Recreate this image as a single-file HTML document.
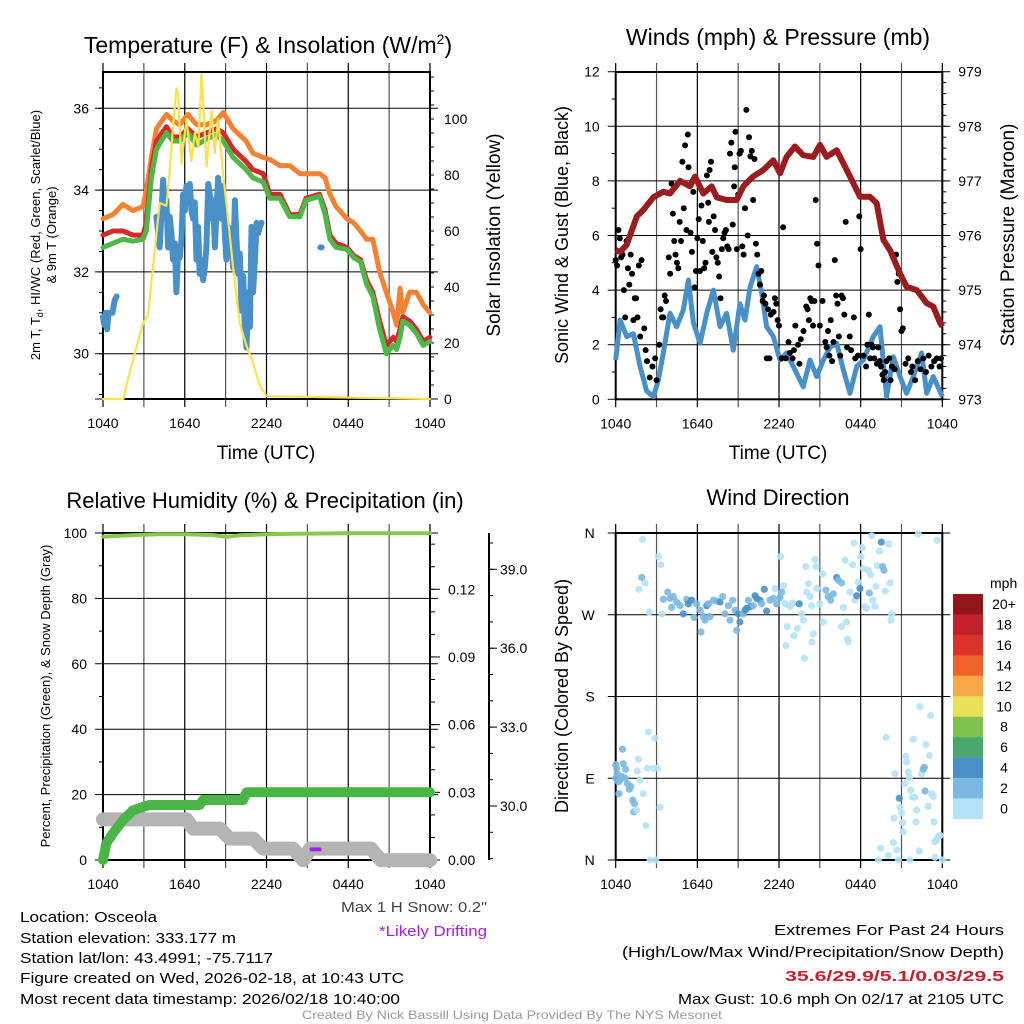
<!DOCTYPE html>
<html><head><meta charset="utf-8"><style>
html,body{margin:0;padding:0;background:#fff;}
svg{display:block;font-family:"Liberation Sans",sans-serif;}
</style></head><body>
<svg id="fig" width="1024" height="1024" viewBox="0 0 1024 1024" xmlns="http://www.w3.org/2000/svg">
<rect width="1024" height="1024" fill="#fff"/>
<g id="tl"></g>
<g id="tr"></g>
<g id="bl"></g>
<g id="br"></g>
<g id="txt" font-size="15" fill="#000">
<text x="20" y="922" textLength="137" lengthAdjust="spacingAndGlyphs">Location: Osceola</text>
<text x="20" y="943" textLength="216" lengthAdjust="spacingAndGlyphs">Station elevation: 333.177 m</text>
<text x="20" y="963" textLength="253" lengthAdjust="spacingAndGlyphs">Station lat/lon: 43.4991; -75.7117</text>
<text x="20" y="983" textLength="384" lengthAdjust="spacingAndGlyphs">Figure created on Wed, 2026-02-18, at 10:43 UTC</text>
<text x="20" y="1004" textLength="380" lengthAdjust="spacingAndGlyphs">Most recent data timestamp: 2026/02/18 10:40:00</text>
<text x="341" y="912" textLength="146" lengthAdjust="spacingAndGlyphs" fill="#444">Max 1 H Snow: 0.2"</text>
<text x="379" y="936" textLength="108" lengthAdjust="spacingAndGlyphs" fill="#a020f0">*Likely Drifting</text>
<text x="774" y="935" textLength="230" lengthAdjust="spacingAndGlyphs">Extremes For Past 24 Hours</text>
<text x="622" y="957" textLength="382" lengthAdjust="spacingAndGlyphs">(High/Low/Max Wind/Precipitation/Snow Depth)</text>
<text x="785" y="981" textLength="219" lengthAdjust="spacingAndGlyphs" fill="#c8202a" font-weight="bold">35.6/29.9/5.1/0.03/29.5</text>
<text x="678" y="1004" textLength="326" lengthAdjust="spacingAndGlyphs">Max Gust: 10.6 mph On 02/17 at 2105 UTC</text>
<text x="302" y="1019" textLength="420" lengthAdjust="spacingAndGlyphs" font-size="12" fill="#999">Created By Nick Bassill Using Data Provided By The NYS Mesonet</text>
</g>
</svg>
<script>
// ---------- data ----------
const timeTickLabels = ['1040','1640','2240','0440','1040'];
const timeTickHours = [0,6,12,18,24];
// Temperature panel
const tempTicks = [30,32,34,36];
const solarTicks = [0,20,40,60,80,100];
const tHours = [0,0.73,1.47,2.2,2.94,3.18,3.55,3.92,4.65,5.14,5.63,6.24,6.86,7.6,8.33,8.82,9.55,10.5,11.0,11.76,12.24,12.98,13.7,14.45,14.9,15.9,16.3,16.65,17.1,17.9,18.4,18.9,19.35,19.8,20.3,20.8,21.3,21.55,21.8,22.0,22.5,23.0,23.5,24];
const orangeT = [33.3,33.4,33.65,33.5,33.6,34.0,34.8,35.5,35.85,35.7,35.6,35.85,35.6,35.6,35.7,35.9,35.5,35.2,34.9,34.8,34.75,34.6,34.6,34.4,34.4,34.4,34.3,33.9,33.6,33.3,33.2,33.0,32.8,32.8,32.0,31.5,31.0,30.7,31.6,31.0,31.5,31.5,31.2,31.0];
const redT = [32.9,33.0,33.0,32.9,32.9,33.2,34.5,35.2,35.55,35.3,35.3,35.5,35.3,35.4,35.5,35.4,35.0,34.7,34.5,34.4,33.9,33.9,33.4,33.4,33.8,33.9,33.5,32.9,32.7,32.6,32.4,32.3,31.8,31.5,30.8,30.2,30.4,30.3,30.6,30.9,30.8,30.6,30.3,30.4];
const greenT = [32.6,32.7,32.8,32.75,32.8,33.0,34.3,35.0,35.4,35.2,35.2,35.4,35.1,35.25,35.35,35.2,34.8,34.5,34.3,34.2,33.8,33.8,33.35,33.35,33.75,33.85,33.4,32.8,32.6,32.55,32.35,32.25,31.7,31.4,30.6,30.0,30.2,30.1,30.4,30.8,30.7,30.5,30.2,30.3];
const dewHours = [0,0.1,0.2,0.3,0.4,NaN,0.7,0.85,1.0,NaN,3.92,4.16,4.41,4.53,4.65,4.78,4.90,5.02,5.14,5.27,5.39,5.51,5.63,5.76,5.88,6.00,6.12,6.25,6.37,6.49,6.61,6.74,6.86,6.98,7.10,7.23,7.35,7.47,7.59,7.72,7.84,7.96,8.08,8.21,8.33,8.45,8.57,8.70,8.82,8.94,9.06,9.19,9.31,9.43,9.55,9.68,9.80,9.92,10.04,10.17,10.29,10.41,10.53,10.66,10.78,10.90,11.02,11.15,11.27,11.39,11.51,11.63,NaN,15.95,16.05];
const dewVals = [30.9,30.7,31.0,30.6,31.0,NaN,31.0,31.3,31.4,NaN,33.35,32.6,34.25,33.6,33.75,32.6,33.35,32.95,32.3,32.7,31.5,32.45,32.35,32.8,33.9,33.5,34.1,33.75,34.15,33.5,33.3,33.7,32.3,33.1,31.95,32.3,31.8,32.1,32.6,34.15,33.9,33.3,33.75,32.6,33.5,34.3,33.75,33.3,34.1,32.95,32.3,33.1,32.6,32.8,32.1,33.75,32.8,31.95,32.45,31.05,31.9,30.65,30.15,31.5,30.65,33.1,31.5,32.3,33.2,32.95,33.1,33.2,NaN,32.6,32.6];
const solarHours = [0,1.5,1.7,2.2,2.94,3.3,3.67,4.16,4.65,4.9,5.14,5.39,5.51,5.76,6.12,6.49,6.74,7.0,7.23,7.6,7.96,8.2,8.45,8.82,9.06,9.55,10.04,10.53,11.0,11.5,12.0,24];
const solarVals = [0,0,4.5,14,27,30,47,70,69,82,97,111,109,84,100,85,95,90,116,83,103,88,100,80,70,47,27,19,13,5,1,0];
// Winds panel
const windTicks = [0,2,4,6,8,10,12];
const pressTicks = [973,974,975,976,977,978,979];
const pHours = [0,0.32,0.81,1.55,2.04,2.77,3.5,3.99,4.73,5.46,5.83,6.44,7.05,7.42,8.15,8.89,9.38,10.1,10.85,11.58,12.07,12.56,13.17,13.78,14.52,15.01,15.5,16.24,16.73,17.46,17.95,18.69,19.18,19.67,20.16,20.9,21.38,22.12,22.85,23.34,23.83,24];
const pressure = [975.73,975.7,975.83,976.35,976.47,976.7,976.8,976.77,977.0,976.9,977.08,976.77,976.9,976.7,976.65,976.65,976.9,977.08,977.2,977.38,977.14,977.44,977.63,977.47,977.44,977.66,977.44,977.56,977.32,976.96,976.71,976.71,976.59,975.92,975.73,975.3,975.06,975.0,974.76,974.7,974.4,974.33];
const wHours = [0,0.32,0.81,1.3,1.79,2.28,2.77,3.13,3.5,3.99,4.48,4.97,5.34,5.71,6.2,6.69,7.18,7.67,8.15,8.64,9.13,9.5,9.87,10.36,10.73,11.09,11.58,12.07,12.56,13.05,13.78,14.28,14.77,15.26,15.75,16.24,16.73,17.22,17.71,18.2,18.93,19.42,19.91,20.4,20.89,21.38,21.87,22.48,22.85,23.34,24];
const wind = [1.44,2.9,2.3,2.4,1.2,0.3,0.1,0.7,1.7,3.15,2.66,3.27,4.37,2.8,2.05,3.15,4.0,2.66,3.15,1.8,3.5,2.9,4.1,4.86,3.9,2.66,2.3,1.44,1.7,1.2,0.46,1.44,0.83,1.44,1.9,2.05,1.07,0.22,1.2,1.44,2.3,2.66,0.1,1.56,0.83,0.22,0.83,1.7,0.22,0.83,0.1];
const gustHours = [0.0,0.1,0.2,0.3,0.4,0.5,0.6,0.7,0.8,0.9,1.0,1.1,1.2,1.3,1.4,1.5,1.6,1.7,1.8,1.9,2.1,2.2,2.3,2.5,2.7,2.9,3.0,3.2,3.3,3.4,3.5,3.6,3.7,3.9,4.0,4.1,4.2,4.3,4.4,4.5,4.6,4.7,4.8,4.9,5.0,5.1,5.2,5.3,5.35,5.5,5.6,5.7,5.8,5.9,6.0,6.1,6.2,6.3,6.4,6.5,6.6,6.7,6.8,6.85,6.9,7.0,7.1,7.2,7.3,7.4,7.5,7.6,7.7,7.8,7.9,8.0,8.1,8.2,8.3,8.4,8.5,8.6,8.7,8.75,8.8,8.9,9.0,9.1,9.2,9.3,9.4,9.5,9.6,9.7,9.8,9.9,10.0,10.1,10.2,10.3,10.4,10.5,10.6,10.7,10.8,10.9,11.0,11.1,11.2,11.3,11.4,11.6,11.7,11.8,11.9,12.0,12.2,12.3,12.5,12.7,12.8,13.0,13.1,13.2,13.4,13.5,13.6,13.8,14.0,14.1,14.2,14.3,14.4,14.5,14.6,14.7,14.8,14.9,15.0,15.2,15.4,15.5,15.6,15.7,15.8,15.9,16.0,16.1,16.2,16.3,16.4,16.5,16.6,16.7,16.8,16.9,17.0,17.2,17.3,17.5,17.6,17.8,17.9,18.0,18.2,18.4,18.5,18.6,18.7,18.8,18.9,19.0,19.2,19.3,19.4,19.5,19.6,19.7,19.8,19.9,20.1,20.2,20.3,20.5,20.6,20.7,20.8,20.9,21.0,21.1,21.3,21.5,21.7,21.8,22.0,22.2,22.4,22.6,22.8,23.0,23.2,23.4,23.6,23.8,23.9];
const gusts = [5.1,4.9,6.2,5.9,5.2,5.3,4.0,3.0,5.8,4.8,4.2,5.3,4.6,2.9,3.7,3.7,3.0,4.9,2.3,5.1,2.6,1.8,1.4,0.8,1.2,1.5,0.7,2.0,3.3,3.0,3.0,3.8,3.6,5.2,4.6,7.9,6.8,5.8,5.3,5.0,4.8,6.5,5.8,8.7,7.0,9.3,6.2,9.7,8.5,6.1,5.4,7.6,4.1,4.7,5.9,6.6,4.7,7.1,5.8,4.8,5.0,8.2,7.2,6.5,8.4,8.7,5.4,6.7,6.2,5.2,5.0,4.5,3.7,5.5,5.9,6.1,6.2,5.6,5.5,9.0,9.4,6.4,7.8,8.5,9.8,5.5,7.5,9.0,9.1,5.6,5.3,7.0,10.6,6.0,9.6,8.9,9.1,7.3,8.8,5.7,5.3,4.6,4.2,4.7,3.6,3.8,3.5,1.5,3.3,1.5,3.1,3.2,3.7,3.5,2.9,2.7,1.5,6.3,1.5,2.1,1.7,1.5,1.8,2.7,2.0,1.3,2.2,2.5,3.4,3.3,2.9,3.7,3.6,2.7,3.6,7.3,5.7,4.9,2.7,3.6,2.1,1.9,2.5,1.6,2.9,1.4,2.1,5.1,3.8,3.5,2.3,1.6,3.8,3.7,3.1,6.5,1.9,2.3,1.8,3.0,1.5,1.6,6.7,5.5,1.6,1.2,2.0,3.1,1.5,2.0,1.9,1.5,1.3,1.9,1.4,1.2,0.9,0.7,1.0,1.4,1.5,0.7,1.2,1.1,5.3,4.3,4.6,3.3,2.5,2.6,1.3,1.5,1.0,1.2,0.7,1.4,1.1,1.5,1.0,1.6,1.2,1.4,1.5,1.2,1.5];
// Humidity panel
const rhTicks = [0,20,40,60,80,100];
const precipTicks = [0,0.03,0.06,0.09,0.12];
const precipTickLabels = ['0.00','0.03','0.06','0.09','0.12'];
const snowTicks = [30,33,36,39];
const snowTickLabels = ['30.0','33.0','36.0','39.0'];
const rhHours = [0,2,4,6,8,9.1,10,12,14,18,24];
const rhVals = [98.9,99.3,99.6,99.6,99.4,98.8,99.3,99.6,99.8,99.9,99.9];
const prHours = [0,0.25,0.73,1.47,2.2,2.94,3.43,7.1,7.35,10.29,10.53,24];
const precip = [0,0.0074,0.0118,0.0177,0.022,0.0236,0.0244,0.0244,0.0266,0.0266,0.03,0.03];
const snHours = [0,6.12,6.61,8.57,9.3,11.02,11.75,13.95,14.7,15.2,16.0,19.67,20.4,24];
const snow = [29.49,29.49,29.14,29.14,28.76,28.76,28.38,28.38,27.94,28.38,28.38,28.38,27.94,27.94];
const driftHours = [15.3,15.9];
const driftVals = [28.35,28.35];
// Wind direction panel
const dirTicks = [0,90,180,270,360];
const dirTickLabels = ['N','E','S','W','N'];
const dirHours = [0.0,0.07,0.0,0.2,0.3,0.1,0.5,0.56,0.73,0.44,0.69,0.86,1.0,1.1,0.24,1.25,1.37,1.32,1.54,1.67,1.59,1.79,2.03,2.23,2.4,2.33,2.89,2.77,3.06,3.26,2.52,2.94,1.98,1.91,2.16,1.71,2.47,3.13,3.31,3.4,3.5,3.82,3.99,4.11,4.24,4.48,4.73,4.97,5.22,5.34,5.58,5.76,5.95,6.2,6.27,6.44,6.56,6.69,6.81,6.93,7.18,7.42,7.67,7.86,8.03,8.28,8.4,8.6,8.77,8.89,9.01,9.13,9.38,9.5,9.62,9.75,9.92,10.11,10.24,10.36,10.6,10.73,10.92,11.09,11.34,11.58,11.71,11.83,12.07,12.2,12.32,12.12,12.44,12.61,12.51,12.81,13.0,13.1,13.35,13.49,13.67,13.79,13.86,13.98,14.16,14.03,14.28,14.4,14.52,14.42,14.65,14.72,14.77,15.01,15.21,15.26,15.45,15.62,15.8,15.99,16.24,16.36,16.6,16.73,16.6,16.85,16.97,17.02,17.09,17.22,17.41,17.51,17.58,17.71,17.83,17.95,18.02,18.12,18.2,18.32,18.44,18.56,18.64,18.73,18.81,18.88,19.05,19.13,19.22,19.37,19.52,19.62,19.71,19.81,20.06,20.16,20.23,20.28,19.86,20.52,20.84,20.89,21.01,20.45,21.09,21.13,21.26,21.33,21.38,21.5,21.58,21.67,21.82,21.99,22.07,22.11,21.87,22.36,22.48,22.6,22.68,22.73,22.8,22.97,23.05,23.14,23.22,23.34,23.39,23.46,23.58,23.71,23.83,19.47,20.03,20.4,20.65,20.77,21.62,19.3,22.31,23.46,24.0,22.24,23.63];
const dirDeg = [105,101,90,86,88,95,122,106,100,92,90,84,78,81,73,66,62,53,55,111,98,88,73,38,141,101,134,101,101,58,0,0,353,311,305,298,273,334,325,271,287,295,288,278,290,284,280,271,287,282,286,267,282,275,251,268,264,280,282,268,286,285,284,290,271,280,264,286,275,253,271,262,271,275,277,286,279,280,291,288,286,282,298,274,286,288,299,282,289,295,302,334,282,257,236,279,283,247,255,282,271,264,222,323,304,295,290,280,249,240,331,323,299,282,315,262,297,290,286,293,311,308,305,278,257,330,262,243,240,295,325,349,286,291,306,299,334,344,321,279,277,319,294,314,357,286,279,301,324,340,350,323,319,296,348,305,264,271,135,95,68,58,52,46,41,31,84,114,108,97,91,77,69,69,42,55,133,169,95,100,102,76,127,59,115,159,73,70,42,20,22,26,27,13,5,19,11,0,0,0,10,3,0,359,352];
const dirSpeed = [3,3,3,3,3,3,3,3,3,3,3,3,3,3,3,3,3,3,1,1,1,1,1,1,1,1,1,1,1,1,1,1,1,3,1,1,1,1,1,1,3,3,3,3,3,3,3,5,3,5,5,3,3,3,3,3,3,5,3,3,3,3,5,3,3,3,3,3,3,3,5,5,3,5,5,3,5,3,5,5,5,3,5,5,3,3,1,3,3,3,1,1,1,1,1,1,1,1,1,5,1,1,1,1,1,1,1,1,1,1,1,1,1,1,1,1,3,3,3,3,5,3,3,1,1,1,1,1,1,1,1,1,1,5,1,5,1,1,1,1,1,1,3,1,1,1,1,1,1,1,5,3,3,1,1,1,1,1,1,1,5,1,1,1,1,1,1,1,1,1,1,1,1,1,1,1,1,1,1,3,3,3,1,1,1,1,1,1,1,1,1,1,1,1,1,1,1,1,1,1,1,1,1,1,1,1,1];
const cbLabels = ['20+','18','16','14','12','10','8','6','4','2','0'];
const cbColors = ['#921519','#c0212a','#dc3229','#f0622a','#f7a847','#e8e05a','#7dc24a','#4aa86e','#4a90c8','#7ab8e2','#b5e2f7'];

// ---------- helpers ----------
const NS='http://www.w3.org/2000/svg';
function mk(parent, tag, attrs, text){
  const e=document.createElementNS(NS,tag);
  for(const k in attrs) e.setAttribute(k, attrs[k]);
  if(text!==undefined) e.textContent=text;
  parent.appendChild(e); return e;
}
function pathFrom(xs, ys, fx, fy){
  let d='', pen=false;
  for(let i=0;i<xs.length;i++){
    if(isNaN(xs[i])||isNaN(ys[i])){pen=false;continue;}
    d+=(pen?'L':'M')+fx(xs[i]).toFixed(1)+' '+fy(ys[i]).toFixed(1);
    pen=true;
  }
  return d;
}
function speedColor(s){ const idx=Math.min(10,Math.max(0,Math.floor(s/2))); return cbColors[10-idx]; }

// generic panel frame
function frame(g, x0, x1, y0, y1, hGrid, name){
  // vertical grid every 3h
  for(let k=0;k<=8;k++){
    const x=x0+(x1-x0)*k/8;
    const l=mk(g,'line',{x1:x,x2:x,y1:y0-9,y2:y1+8,stroke:(k%2? '#555':'#000'),'stroke-width':1.2});
    
    
  }
  hGrid.forEach(y=>{
    const l=mk(g,'line',{x1:x0-8,x2:x1+8,y1:y,y2:y,stroke:'#000','stroke-width':1});
    
    
  });
  const r=mk(g,'rect',{x:x0,y:y0,width:x1-x0,height:y1-y0,fill:'none',stroke:'#000','stroke-width':2});
  
  
  timeTickHours.forEach((h,i)=>{
    const t=mk(g,'text',{x:x0+(x1-x0)*h/24,y:y1+29,'font-size':14,'text-anchor':'middle'},timeTickLabels[i]);
    
    
  });
}
function vtext(g,x,y,size,str,name,anchor){
  const t=mk(g,'text',{x:0,y:0,'font-size':size,'text-anchor':anchor||'middle',transform:`translate(${x},${y}) rotate(-90)`},str);
  
  
  return t;
}
function ticks(g,x,vals,fy,len,minor){
  vals.forEach(v=>{ mk(g,'line',{x1:x,x2:x+len,y1:fy(v),y2:fy(v),stroke:'#000','stroke-width':1}); });
  if(minor) minor.forEach(v=>{ mk(g,'line',{x1:x,x2:x+len/2,y1:fy(v),y2:fy(v),stroke:'#000','stroke-width':1}); });
}

// ---------- Temperature panel ----------
(function(){
  const g=document.getElementById('tl');
  const X0=103,X1=430,Y0=72,Y1=399;
  const x=h=>X0+h/24*(X1-X0);
  const yT=v=>108.3+(36-v)*40.9;
  const yS=v=>Y1-v*2.8;
  frame(g,X0,X1,Y0,Y1,tempTicks.map(yT).concat([Y1]),'temperature');
  const mn=[]; for(let v=29;v<=36.5;v+=0.5) mn.push(v);
  ticks(g,X0,[],yT,-8,mn.filter(v=>v>=28.9));
  const sm=[]; for(let v=0;v<=115;v+=5) sm.push(v);
  ticks(g,X1,[],yS,8,sm);
  tempTicks.forEach(v=>{ const t=mk(g,'text',{x:X0-14,y:yT(v)+5,'font-size':14,'text-anchor':'end'},v);   });
  solarTicks.forEach(v=>{ const t=mk(g,'text',{x:X1+14,y:yS(v)+5,'font-size':14},v);   });
  const s=[['#4a90c8',dewHours,dewVals,yT,6,'dewpoint-line'],['#f58234',tHours,orangeT,yT,5,'9m-temp-line'],['#d42a2a',tHours,redT,yT,5,'2m-temp-line'],['#4db848',tHours,greenT,yT,5,'windchill-line'],['#fbe04f',solarHours,solarVals,yS,2.2,'solar-line']];
  s.forEach(a=>{
    const p=mk(g,'path',{d:pathFrom(a[1],a[2],x,a[3]),fill:'none',stroke:a[0],'stroke-width':a[4],'stroke-linejoin':'round','stroke-linecap':'round'});
    
    
  });
  const ttl=mk(g,'text',{x:268,y:53,'font-size':23,'text-anchor':'middle'});
  ttl.innerHTML='Temperature (F) &amp; Insolation (W/m<tspan dy="-9" font-size="14">2</tspan><tspan dy="9">)</tspan>';
  
  
  const xt=mk(g,'text',{x:266,y:459,'font-size':19,'text-anchor':'middle'},'Time (UTC)');
  
  
  const t1=vtext(g,40,235,13,'','temp-axis-title');
  t1.innerHTML='2m T, T<tspan dy="3" font-size="9">d</tspan><tspan dy="-3">, HI/WC (Red, Green, Scarlet/Blue)</tspan>';
  vtext(g,56,235,13,'& 9m T (Orange)','temp-axis-title-2');
  vtext(g,500,235,19,'Solar Insolation (Yellow)','solar-axis-title');
})();

// ---------- Winds panel ----------
(function(){
  const g=document.getElementById('tr');
  const X0=615.7,X1=942.3,Y0=72,Y1=399.3;
  const x=h=>X0+h/24*(X1-X0);
  const yW=v=>Y1-v*27.3;
  const yP=p=>Y1-(p-973)*54.6;
  frame(g,X0,X1,Y0,Y1,windTicks.map(yW),'winds');
  const mn=[]; for(let v=1;v<12;v+=2) mn.push(v);
  ticks(g,X0,[],yW,-8,mn);
  const pm=[]; for(let v=973;v<=979;v+=0.2) pm.push(v);
  ticks(g,X1,[],yP,8,pm);
  windTicks.forEach(v=>{ const t=mk(g,'text',{x:X0-16,y:yW(v)+5,'font-size':14,'text-anchor':'end'},v);   });
  pressTicks.forEach(v=>{ const t=mk(g,'text',{x:X1+16,y:yP(v)+5,'font-size':14},v);   });
  const wl=mk(g,'path',{d:pathFrom(wHours,wind,x,yW),fill:'none',stroke:'#4a90c8','stroke-width':5,'stroke-linejoin':'round'});
  
  
  gustHours.forEach((h,i)=>{
    const c=mk(g,'circle',{cx:x(h),cy:yW(gusts[i]),r:3,fill:'#000'});
    
    
  });
  const pl=mk(g,'path',{d:pathFrom(pHours,pressure,x,yP),fill:'none',stroke:'#9b1b1e','stroke-width':6,'stroke-linejoin':'round'});
  
  
  const ttl=mk(g,'text',{x:778,y:45,'font-size':23,'text-anchor':'middle'},'Winds (mph) & Pressure (mb)');
  
  
  const xt=mk(g,'text',{x:778,y:459,'font-size':19,'text-anchor':'middle'},'Time (UTC)');
  
  
  vtext(g,568,235,18,'Sonic Wind & Gust (Blue, Black)','wind-axis-title');
  vtext(g,1014,235,19,'Station Pressure (Maroon)','pressure-axis-title');
})();

// ---------- Humidity panel ----------
(function(){
  const g=document.getElementById('bl');
  const X0=103,X1=430,Y0=533,Y1=860;
  const x=h=>X0+h/24*(X1-X0);
  const yR=v=>Y1-v*3.27;
  const yPr=v=>Y1-v*2256;
  const ySn=v=>806-(v-30)*26.3;
  frame(g,X0,X1,Y0,Y1,rhTicks.map(yR),'humidity');
  const mn=[]; for(let v=10;v<100;v+=20) mn.push(v);
  ticks(g,X0,[],yR,-8,mn);
  const pm=[]; for(let v=0;v<=0.145;v+=0.01) pm.push(v);
  ticks(g,X1,precipTicks,yPr,10,pm);
  rhTicks.forEach(v=>{ const t=mk(g,'text',{x:X0-16,y:yR(v)+5,'font-size':14,'text-anchor':'end'},v);   });
  precipTicks.forEach((v,i)=>{ const t=mk(g,'text',{x:X1+18,y:yPr(v)+5,'font-size':14},precipTickLabels[i]);   });
  const ax=mk(g,'line',{x1:489,x2:489,y1:Y0,y2:Y1,stroke:'#000','stroke-width':2});
  
  
  const sm=[]; for(let v=28;v<=40.5;v+=1) sm.push(v);
  ticks(g,489,snowTicks,ySn,8,sm.filter(v=>ySn(v)>=Y0&&ySn(v)<=Y1));
  snowTicks.forEach((v,i)=>{ const t=mk(g,'text',{x:500,y:ySn(v)+5,'font-size':14},snowTickLabels[i]);   });
  const s=[['#b4b4b4',snHours,snow,ySn,14,'snow-depth-line'],['#4ab546',prHours,precip,yPr,10,'precip-line'],['#88c850',rhHours,rhVals,yR,4,'rh-line'],['#a020f0',driftHours,driftVals,ySn,4,'drifting-marker']];
  s.forEach(a=>{
    const p=mk(g,'path',{d:pathFrom(a[1],a[2],x,a[3]),fill:'none',stroke:a[0],'stroke-width':a[4],'stroke-linejoin':'round','stroke-linecap':'round'});
    
    
  });
  const ttl=mk(g,'text',{x:265,y:508,'font-size':22,'text-anchor':'middle'},'Relative Humidity (%) & Precipitation (in)');
  
  
  vtext(g,50,696,13,'Percent, Precipitation (Green), & Snow Depth (Gray)','rh-axis-title');
})();

// ---------- Wind direction panel ----------
(function(){
  const g=document.getElementById('br');
  const X0=615.7,X1=942.3,Y0=533,Y1=860;
  const x=h=>X0+h/24*(X1-X0);
  const yD=d=>Y1-d/360*(Y1-Y0);
  frame(g,X0,X1,Y0,Y1,dirTicks.map(yD),'direction');
  dirTicks.forEach((v,i)=>{ const t=mk(g,'text',{x:X0-21,y:yD(v)+5,'font-size':14,'text-anchor':'end'},dirTickLabels[i]);   });
  dirHours.forEach((h,i)=>{
    const c=mk(g,'circle',{cx:x(h),cy:yD(dirDeg[i]),r:3.6,fill:speedColor(dirSpeed[i]),'fill-opacity':0.9});
    
    
  });
  cbColors.forEach((c,i)=>{
    const r=mk(g,'rect',{x:953,y:594+i*20.45,width:30,height:20.6,fill:c});
    
    
    const t=mk(g,'text',{x:1004,y:594+i*20.45+15,'font-size':14,'text-anchor':'middle'},cbLabels[i]);
    
    
  });
  const u=mk(g,'text',{x:990,y:588,'font-size':14},'mph');
  
  
  const ttl=mk(g,'text',{x:778,y:505,'font-size':22,'text-anchor':'middle'},'Wind Direction');
  
  
  vtext(g,568,696,18,'Direction (Colored By Speed)','direction-axis-title');
})();
</script>
</body></html>
